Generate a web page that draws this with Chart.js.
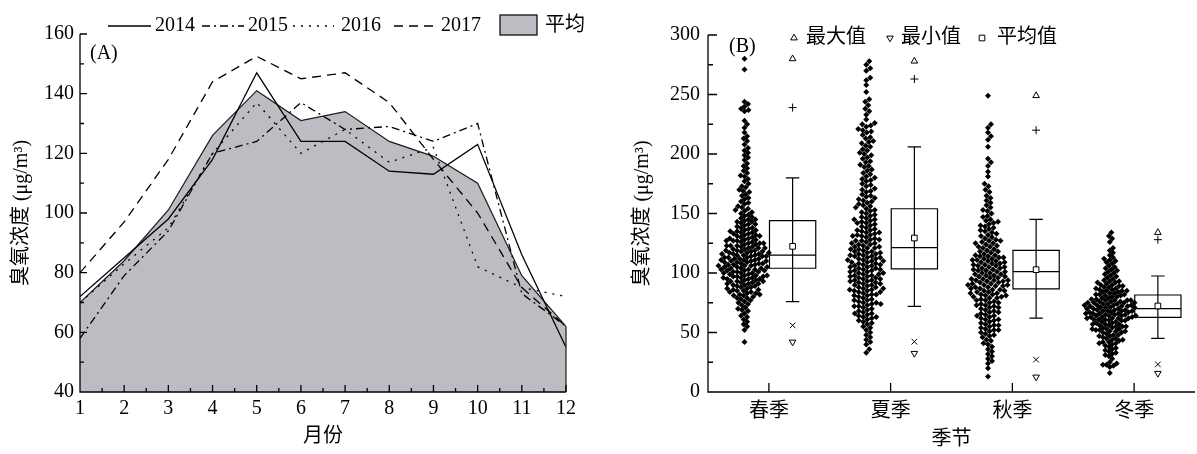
<!DOCTYPE html>
<html>
<head>
<meta charset="utf-8">
<script src="https://cdn.jsdelivr.net/npm/chart.js@4.4.0/dist/chart.umd.min.js"></script>
<style>
  html, body { margin: 0; padding: 0; background: #fff; overflow: hidden; }
  #wrap { position: relative; width: 1197px; height: 454px; overflow: hidden; }
  #boxA { position: absolute; left: 0; top: 0; width: 600px; height: 454px; }
  #boxB { position: absolute; left: 600px; top: 0; width: 600px; height: 454px; }
</style>
</head>
<body>
<div id="wrap">
  <div id="boxA"><canvas id="chartA" width="600" height="454"></canvas></div>
  <div id="boxB"><canvas id="chartB" width="600" height="454"></canvas></div>
</div>
<script>
// ---------- (A) 月均臭氧浓度 ----------
const months = [1, 2, 3, 4, 5, 6, 7, 8, 9, 10, 11, 12];
const y2014 = [72, 85, 98, 118, 147, 124, 124, 114, 113, 123, 86, 55];
const y2015 = [58, 79, 94, 120, 124, 137, 128, 129, 124, 130, 73, 62];
const y2016 = [70, 83, 95, 120, 137, 120, 128, 117, 122, 82, 75, 72];
const y2017 = [80, 97, 118, 144, 152.5, 145, 147, 137, 118, 100, 75, 62];
const yAvg = [70, 84, 101, 126, 141, 131, 134, 124, 119, 110, 79, 62];
const yTicksA = [40, 60, 80, 100, 120, 140, 160];

// ---------- (B) 季节分布 ----------
const seasons = ['春季', '夏季', '秋季', '冬季'];
const yTicksB = [0, 50, 100, 150, 200, 250, 300];
const maxV = [280, 278, 249, 134];
const p99V = [239, 263, 220, 128];
const whiskHi = [180, 206, 145, 97.5];
const q3V = [144, 154, 119, 81.5];
const meanV = [122.4, 129.4, 102.8, 72.3];
const medianV = [115, 121.3, 101.1, 70];
const q1V = [104, 103.4, 86.6, 62.7];
const whiskLo = [76, 72, 62, 45];
const p1V = [56, 42.3, 27.2, 23.2];
const minV = [42, 32.5, 12.6, 15.7];

// 日均值
const spring = [42, 52, 55, 57, 59, 61, 63, 64, 66, 68, 69, 70, 71, 73, 74, 75, 76, 77, 78, 79, 79,
  80, 81, 81, 82, 83, 83, 84, 85, 85, 86, 86, 87, 88, 88, 89, 89, 84, 82, 87,
  90, 90, 91, 91, 92, 92, 93, 93, 94, 94, 95, 95, 95, 96, 96, 97, 97, 97, 98, 98, 99, 99, 91, 93, 96, 98,
  100, 100, 101, 101, 101, 102, 102, 103, 103, 104, 104, 104, 105, 105, 106, 106, 107, 107, 107, 108, 108, 109, 109, 100, 102, 103, 105, 106, 108, 109,
  110, 110, 111, 111, 112, 112, 112, 113, 113, 114, 114, 115, 115, 115, 116, 116, 117, 117, 118, 118, 118, 119, 119, 110, 111, 113, 114, 116, 117, 119,
  120, 120, 121, 121, 122, 122, 123, 123, 124, 124, 125, 125, 126, 126, 127, 127, 128, 128, 129, 129, 121, 123, 125, 127,
  130, 130, 131, 132, 132, 133, 134, 134, 135, 136, 136, 137, 138, 138, 139, 133, 135, 131,
  140, 141, 142, 143, 143, 144, 145, 146, 147, 148, 149, 141, 145,
  150, 151, 152, 154, 155, 156, 158, 159, 153,
  160, 162, 163, 165, 166, 168, 169,
  170, 172, 173, 175, 177, 179,
  181, 182, 184, 186, 188,
  190, 192, 195, 197, 199,
  201, 203, 205, 208,
  211, 213, 215, 218,
  222, 225, 228,
  236, 237, 238, 240, 242, 244,
  271, 280];
const summer = [33, 36, 40, 42, 44, 46, 48, 50, 52, 54, 55, 57, 58, 59,
  60, 61, 62, 63, 64, 65, 66, 67, 68, 69, 63, 66,
  70, 71, 72, 73, 74, 75, 75, 76, 77, 78, 79, 72, 74, 77,
  80, 81, 82, 82, 83, 84, 85, 85, 86, 87, 88, 88, 89, 81, 84, 86, 87,
  90, 90, 91, 92, 92, 93, 94, 94, 95, 96, 96, 97, 98, 98, 99, 91, 93, 95, 97, 99,
  100, 100, 101, 102, 102, 103, 104, 104, 105, 106, 106, 107, 108, 108, 109, 101, 103, 105, 107, 109,
  110, 110, 111, 112, 112, 113, 114, 114, 115, 116, 116, 117, 118, 118, 119, 111, 113, 115, 117,
  120, 121, 121, 122, 123, 124, 124, 125, 126, 127, 127, 128, 129, 120, 122, 125, 128,
  130, 131, 132, 132, 133, 134, 135, 136, 137, 138, 139, 131, 134, 136,
  140, 141, 142, 143, 144, 145, 146, 147, 148, 149, 142, 145,
  150, 151, 152, 153, 154, 156, 157, 158, 159, 155,
  160, 161, 162, 164, 165, 166, 168, 169, 163,
  170, 171, 173, 174, 175, 177, 178, 179,
  180, 181, 183, 184, 186, 187, 189,
  190, 191, 193, 194, 196, 197, 199,
  200, 201, 203, 204, 206, 207, 209,
  210, 211, 213, 214, 216, 218, 219,
  220, 221, 223, 224, 225, 226,
  229, 233, 236, 238, 241, 244, 246, 252, 258, 262, 264, 270, 272, 275, 278];
const autumn = [13, 20, 24, 26, 28, 30, 32, 34, 36, 38, 40, 41, 43, 44, 46, 47, 48, 49,
  50, 51, 52, 53, 54, 55, 56, 57, 58, 59, 52, 56,
  60, 61, 62, 63, 64, 65, 66, 67, 68, 69, 61, 64, 67,
  70, 71, 72, 73, 74, 75, 76, 77, 78, 79, 71, 73, 75, 77, 79,
  80, 80, 81, 82, 82, 83, 84, 84, 85, 86, 86, 87, 88, 88, 89, 81, 83, 85, 87, 89,
  90, 90, 91, 92, 92, 93, 94, 94, 95, 96, 96, 97, 98, 98, 99, 91, 93, 95, 97, 99, 90, 94,
  100, 100, 101, 102, 102, 103, 104, 104, 105, 106, 106, 107, 108, 108, 109, 101, 103, 105, 107, 109,
  110, 110, 111, 112, 112, 113, 114, 114, 115, 116, 117, 118, 119, 111, 113, 115, 118,
  120, 121, 122, 123, 124, 125, 126, 127, 128, 129, 122, 125, 127,
  130, 131, 132, 134, 135, 136, 137, 139, 133, 138,
  140, 141, 142, 144, 145, 147, 148, 143,
  150, 152, 153, 155, 157, 159,
  161, 163, 165, 168,
  170, 173, 175,
  181, 185, 190, 193, 196,
  206, 212, 215, 218, 222, 225,
  249];
const winter = [16, 21, 22, 23, 23, 24, 25, 28, 30, 31, 32, 33, 34, 35, 36, 37, 38, 39,
  40, 41, 42, 42, 43, 44, 45, 45, 46, 47, 48, 48, 49, 41, 44, 47,
  50, 50, 51, 51, 52, 52, 53, 53, 54, 54, 55, 55, 56, 56, 57, 57, 58, 58, 59, 59, 51, 53, 55, 57,
  60, 60, 60, 61, 61, 61, 62, 62, 62, 63, 63, 63, 64, 64, 64, 65, 65, 65, 66, 66, 66, 67, 67, 67, 68, 68, 68, 69, 69, 69, 62, 64, 66, 68,
  70, 70, 70, 71, 71, 71, 72, 72, 72, 73, 73, 73, 74, 74, 74, 75, 75, 75, 76, 76, 76, 77, 77, 77, 78, 78, 79, 79, 71, 73, 75, 77,
  80, 80, 81, 81, 82, 82, 83, 83, 84, 84, 85, 85, 86, 86, 87, 87, 88, 88, 89, 89, 82, 85,
  90, 90, 91, 92, 92, 93, 94, 95, 96, 97, 98, 99, 93,
  100, 101, 102, 103, 104, 105, 106, 108, 109,
  110, 111, 112, 113, 115, 117, 119,
  121, 126, 129, 131, 134];
const seasonVals = [spring, summer, autumn, winter];

Chart.defaults.font.family = '"Liberation Serif", "Noto Sans CJK SC", serif';
Chart.defaults.font.size = 20;
Chart.defaults.color = '#000';

const FONT = '20px "Liberation Serif", "Noto Sans CJK SC", serif';
const xy = vals => months.map((m, i) => ({ x: m, y: vals[i] }));

// 刻度朝内 + 坐标轴线
const inTicks = {
  id: 'inTicks',
  afterDraw(chart, args, o) {
    const { ctx, chartArea: a, scales: { x, y } } = chart;
    ctx.save();
    ctx.strokeStyle = '#000';
    ctx.lineWidth = 1.3;
    ctx.beginPath();
    ctx.moveTo(a.left, a.top);
    ctx.lineTo(a.left, a.bottom);
    ctx.lineTo(a.right, a.bottom);
    const xt = x.ticks.map(t => t.value), yt = y.ticks.map(t => t.value);
    xt.forEach(v => { const p = x.getPixelForValue(v); ctx.moveTo(p, a.bottom); ctx.lineTo(p, a.bottom - o.major); });
    yt.forEach(v => { const p = y.getPixelForValue(v); ctx.moveTo(a.left, p); ctx.lineTo(a.left + o.major, p); });
    if (o.xMinor) xt.slice(1).forEach((v, i) => {
      const p = x.getPixelForValue((v + xt[i]) / 2);
      ctx.moveTo(p, a.bottom); ctx.lineTo(p, a.bottom - o.minor);
    });
    yt.slice(1).forEach((v, i) => {
      const p = y.getPixelForValue((v + yt[i]) / 2);
      ctx.moveTo(a.left, p); ctx.lineTo(a.left + o.minor, p);
    });
    ctx.stroke();
    ctx.restore();
  }
};

// 图 A 图例、面积右侧边界
const legendA = {
  id: 'legendA',
  afterDatasetsDraw(chart) {
    const { ctx, scales: { x, y } } = chart;
    const avg = chart.data.datasets[4];
    ctx.save();
    ctx.strokeStyle = avg.borderColor;
    ctx.lineWidth = 1.2;
    const px = x.getPixelForValue(months[months.length - 1]);
    ctx.beginPath();
    ctx.moveTo(px, y.getPixelForValue(yAvg[yAvg.length - 1]));
    ctx.lineTo(px, y.getPixelForValue(y.min));
    ctx.stroke();
    ctx.restore();
  },
  afterDraw(chart) {
    const ctx = chart.ctx;
    const ly = 26;
    const slots = [[108, 151, 155], [202, 244, 248], [293, 334, 341], [394, 439, 441]];
    ctx.save();
    ctx.font = FONT;
    ctx.textBaseline = 'middle';
    ctx.fillStyle = '#000';
    chart.data.datasets.slice(0, 4).forEach((ds, i) => {
      const [a, b, t] = slots[i];
      ctx.strokeStyle = '#000';
      ctx.lineWidth = 1.3;
      ctx.setLineDash(ds.borderDash);
      ctx.beginPath(); ctx.moveTo(a, ly); ctx.lineTo(b, ly); ctx.stroke();
      ctx.setLineDash([]);
      ctx.fillText(ds.label, t, ly);
    });
    const avg = chart.data.datasets[4];
    ctx.fillStyle = avg.backgroundColor;
    ctx.fillRect(500, 15, 37, 20);
    ctx.strokeStyle = '#000';
    ctx.lineWidth = 1.2;
    ctx.strokeRect(500, 15, 37, 20);
    ctx.fillStyle = '#000';
    ctx.fillText(avg.label, 545, ly);
    ctx.fillText('(A)', 90, 54);
    ctx.restore();
  }
};

const lineSet = (label, vals, dash) => ({
  label, data: xy(vals), borderColor: '#000', borderWidth: 1.3, borderDash: dash,
  pointRadius: 0, fill: false, tension: 0
});

new Chart(document.getElementById('chartA'), {
  type: 'line',
  data: {
    datasets: [
      lineSet('2014', y2014, []),
      lineSet('2015', y2015, [8, 4, 2, 4]),
      lineSet('2016', y2016, [2, 6]),
      lineSet('2017', y2017, [9, 6]),
      { label: '平均', data: xy(yAvg), borderColor: '#1a1a1a', borderWidth: 1.2, backgroundColor: '#bebcc2',
        fill: 'start', pointRadius: 0, tension: 0, order: 10 }
    ]
  },
  options: {
    responsive: false,
    animation: false,
    layout: { padding: { top: 34, right: 34, left: 0, bottom: 0 } },
    plugins: {
      legend: { display: false },
      tooltip: { enabled: false },
      inTicks: { major: 7, minor: 4, xMinor: true }
    },
    scales: {
      x: {
        type: 'linear', min: 1, max: 12,
        afterFit: s => { s.height = 62; },
        afterBuildTicks: s => { s.ticks = months.map(v => ({ value: v })); },
        grid: { display: false, drawTicks: false }, border: { display: false },
        ticks: { padding: 5, maxRotation: 0, autoSkip: false },
        title: { display: true, text: '月份', padding: { top: 0, bottom: 5 } }
      },
      y: {
        min: 40, max: 160,
        afterFit: s => { s.width = 80; },
        afterBuildTicks: s => { s.ticks = yTicksA.map(v => ({ value: v })); },
        grid: { display: false, drawTicks: false }, border: { display: false },
        ticks: { padding: 6 },
        title: { display: true, text: '臭氧浓度 (μg/m³)', padding: { top: 10, bottom: 0 } }
      }
    }
  },
  plugins: [inTicks, legendA]
});

// ---------- B ----------
const swarmShift = -0.2, boxShift = 0.195, boxHalf = 0.19, capHalf = 0.055;

const boxPlot = {
  id: 'boxPlot',
  beforeDatasetsDraw(chart) {
    const { ctx, scales: { x, y } } = chart;
    const unit = x.getPixelForValue(1) - x.getPixelForValue(0);
    const py = v => y.getPixelForValue(v);
    ctx.save();
    ctx.strokeStyle = '#000';
    ctx.lineWidth = 1.2;
    seasons.forEach((s, i) => {
      const cx = x.getPixelForValue(i + 1 + boxShift);
      const hw = boxHalf * unit, cap = capHalf * unit;
      ctx.beginPath();
      ctx.moveTo(cx, py(whiskLo[i])); ctx.lineTo(cx, py(whiskHi[i]));
      ctx.moveTo(cx - cap, py(whiskLo[i])); ctx.lineTo(cx + cap, py(whiskLo[i]));
      ctx.moveTo(cx - cap, py(whiskHi[i])); ctx.lineTo(cx + cap, py(whiskHi[i]));
      ctx.rect(cx - hw, py(q3V[i]), 2 * hw, py(q1V[i]) - py(q3V[i]));
      ctx.moveTo(cx - hw, py(medianV[i])); ctx.lineTo(cx + hw, py(medianV[i]));
      ctx.stroke();
    });
    ctx.restore();
  }
};

const legendB = {
  id: 'legendB',
  afterDraw(chart) {
    const ctx = chart.ctx;
    const ds = chart.data.datasets;
    const ly = 38;
    const items = [[ds[4], 194, 206], [ds[7], 290, 301], [ds[8], 382, 397]];
    ctx.save();
    ctx.font = FONT;
    ctx.textBaseline = 'middle';
    items.forEach(([d, mx, tx]) => {
      ctx.fillStyle = d.pointBackgroundColor;
      ctx.strokeStyle = d.pointBorderColor;
      ctx.lineWidth = d.pointBorderWidth;
      Chart.helpers.drawPoint(ctx, { pointStyle: d.pointStyle, radius: d.pointRadius, rotation: d.pointRotation, borderWidth: d.pointBorderWidth }, mx, ly);
      ctx.fillStyle = '#000';
      ctx.fillText(d.label, tx, ly);
    });
    ctx.fillText('(B)', 129, 47);
    ctx.restore();
  }
};

const markerSet = (label, vals, style, rot, r, fill) => ({
  label, data: vals.map((v, i) => ({ x: i + 1 + boxShift, y: v })),
  pointStyle: style, pointRotation: rot, pointRadius: r, pointHoverRadius: r,
  pointBackgroundColor: fill, pointBorderColor: '#000', pointBorderWidth: 1
});

const chartB = new Chart(document.getElementById('chartB'), {
  type: 'scatter',
  data: {
    datasets: [
      ...seasons.map(s => ({
        label: s, data: [], pointStyle: 'rectRot', pointRadius: 3, pointHoverRadius: 3,
        pointBackgroundColor: '#000', pointBorderColor: '#000', pointBorderWidth: 0
      })),
      markerSet('最大值', maxV, 'triangle', 0, 3.8, '#fff'),
      markerSet('99%', p99V, 'cross', 0, 4, '#fff'),
      markerSet('1%', p1V, 'crossRot', 0, 4, '#fff'),
      markerSet('最小值', minV, 'triangle', 180, 3.8, '#fff'),
      markerSet('平均值', meanV, 'rect', 0, 4, '#fff')
    ]
  },
  options: {
    responsive: false,
    animation: false,
    layout: { padding: { top: 35, right: 0, left: 0, bottom: 0 } },
    plugins: {
      legend: { display: false },
      tooltip: { enabled: false },
      inTicks: { major: 9, minor: 5, xMinor: false }
    },
    scales: {
      x: {
        type: 'linear', min: 0.5, max: 4.5,
        afterFit: s => { s.height = 62; },
        afterBuildTicks: s => { s.ticks = seasons.map((_, i) => ({ value: i + 1 })); },
        grid: { display: false, drawTicks: false }, border: { display: false },
        ticks: { padding: 8, maxRotation: 0, autoSkip: false, callback: v => seasons[v - 1] },
        title: { display: true, text: '季节', padding: { top: 0, bottom: 2 } }
      },
      y: {
        min: 0, max: 300,
        afterFit: s => { s.width = 108; },
        afterBuildTicks: s => { s.ticks = yTicksB.map(v => ({ value: v })); },
        grid: { display: false, drawTicks: false }, border: { display: false },
        ticks: { padding: 8 },
        title: { display: true, text: '臭氧浓度 (μg/m³)', padding: { top: 31, bottom: 0 } }
      }
    }
  },
  plugins: [inTicks, boxPlot, legendB]
});

// 蜂群布局：按读入顺序逐点放置，避免重叠
function beeswarm(vals, yScale, gap, maxHalf) {
  const items = vals.map(v => ({ v, py: yScale.getPixelForValue(v), dx: 0 }));
  const placed = [];
  items.forEach(it => {
    const near = placed.filter(q => Math.abs(q.py - it.py) < gap);
    for (let k = 0; k < 600; k++) {
      const dx = (k % 2 ? 1 : -1) * Math.ceil(k / 2) * 0.5;
      if (near.every(q => Math.hypot(q.dx - dx, q.py - it.py) >= gap)) { it.dx = dx; break; }
    }
    placed.push(it);
  });
  const w = Math.max(...items.map(it => Math.abs(it.dx)));
  if (w > maxHalf) items.forEach(it => { it.dx *= maxHalf / w; });
  return items;
}

const xs = chartB.scales.x, ys = chartB.scales.y;
const unitB = xs.getPixelForValue(1) - xs.getPixelForValue(0);
seasonVals.forEach((vals, i) => {
  chartB.data.datasets[i].data = beeswarm(vals, ys, 4.4, 26)
    .map(it => ({ x: i + 1 + swarmShift + it.dx / unitB, y: it.v }));
});
chartB.update('none');
</script>
</body>
</html>
